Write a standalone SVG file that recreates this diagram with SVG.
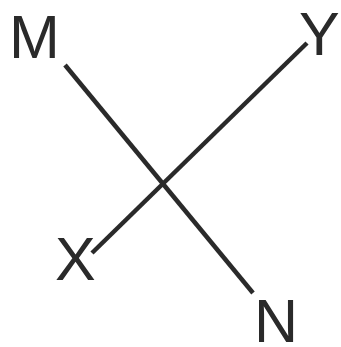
<svg xmlns="http://www.w3.org/2000/svg" width="341" height="347" viewBox="0 0 341 347">
<style>
.lbl{font-family:"Liberation Sans",Arial,sans-serif;font-size:61px;fill:#2a2a2a}
.ln{stroke:#2a2a2a;stroke-width:4.5;fill:none}
</style>
<rect width="341" height="347" fill="#fff"/>
<g id="connectors">
<line class="ln" x1="65" y1="65" x2="253" y2="293"/>
<line class="ln" x1="307" y1="43" x2="92" y2="253"/>
</g>
<g id="M"><text class="lbl" x="9" y="58">M</text></g>
<g id="Y"><text class="lbl" x="299" y="55">Y</text></g>
<g id="X"><text class="lbl" x="55" y="280">X</text></g>
<g id="N"><text class="lbl" x="254" y="342">N</text></g>
</svg>
